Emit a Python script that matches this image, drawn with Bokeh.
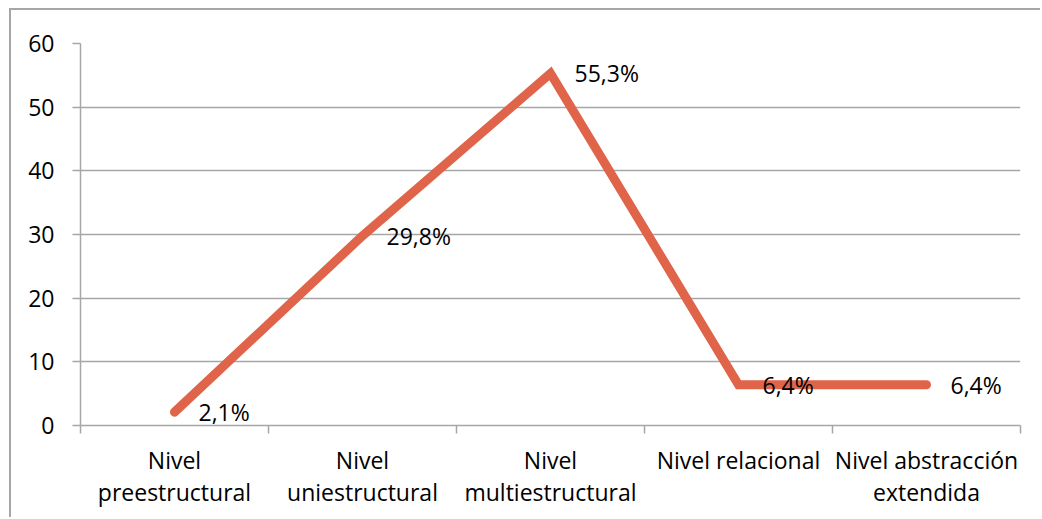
from bokeh.plotting import figure
from bokeh.models import ColumnDataSource, LabelSet, FixedTicker, Range1d
from bokeh.core.properties import value
from bokeh.embed import file_html
from bokeh.resources import INLINE

# Data
categories = ["Nivel\npreestructural", "Nivel\nuniestructural", "Nivel\nmultiestructural",
              "Nivel relacional", "Nivel abstracción\nextendida"]
percentages = [2.1, 29.8, 55.3, 6.4, 6.4]
y_ticks = [0, 10, 20, 30, 40, 50, 60]

FONT = "Open Sans"
FONT_SIZE = "23px"
GRID = "#A6A6A6"
LINE = "#DF6449"

xs = [i + 0.5 for i in range(len(categories))]
labels = [f"{v:.1f}".replace(".", ",") + "%" for v in percentages]
src = ColumnDataSource(dict(x=xs, y=percentages, label=labels))

p = figure(width=1031, height=509, output_backend="svg", toolbar_location=None,
           x_range=Range1d(0, len(categories)), y_range=Range1d(0, 60),
           min_border_left=69, min_border_right=22, min_border_top=33, min_border_bottom=94,
           margin=(8, 0, 0, 9),
           styles={"border-top": "2px solid #A6A6A6", "border-left": "2px solid #A6A6A6"})
p.outline_line_color = None
p.background_fill_color = "white"
p.border_fill_color = "white"

p.line("x", "y", source=src, line_color=LINE, line_width=9, line_cap="round", line_join="miter")

p.add_layout(LabelSet(x="x", y="y", text="label", source=src, x_offset=24, y_offset=0,
                      text_baseline="middle", text_align="left", text_font=value(FONT),
                      text_font_size=FONT_SIZE, text_color="#000000"))

# y axis
p.yaxis.ticker = FixedTicker(ticks=y_ticks)
p.yaxis.axis_line_color = GRID
p.yaxis.axis_line_width = 1.5
p.yaxis.major_tick_line_color = GRID
p.yaxis.major_tick_line_width = 1.5
p.yaxis.major_tick_out = 8
p.yaxis.major_tick_in = 0
p.yaxis.minor_tick_line_color = None
p.yaxis.major_label_standoff = 18
p.yaxis.major_label_text_font = FONT
p.yaxis.major_label_text_font_size = FONT_SIZE
p.yaxis.major_label_text_color = "#000000"

# x axis: labels at category centres, tick marks at category boundaries
p.xaxis.ticker = FixedTicker(ticks=xs, minor_ticks=list(range(len(categories) + 1)))
p.xaxis.major_label_overrides = {x: c for x, c in zip(xs, categories)}
p.xaxis.axis_line_color = GRID
p.xaxis.axis_line_width = 1.5
p.xaxis.major_tick_line_color = None
p.xaxis.minor_tick_line_color = GRID
p.xaxis.minor_tick_line_width = 1.5
p.xaxis.minor_tick_out = 8
p.xaxis.minor_tick_in = 0
p.xaxis.major_label_standoff = 10
p.xaxis.major_label_text_line_height = 1.0
p.xaxis.major_label_text_font = FONT
p.xaxis.major_label_text_font_size = FONT_SIZE
p.xaxis.major_label_text_color = "#000000"

p.xgrid.grid_line_color = None
p.ygrid.grid_line_color = GRID
p.ygrid.grid_line_width = 1.5

open("out.html", "w").write(file_html(p, INLINE))
